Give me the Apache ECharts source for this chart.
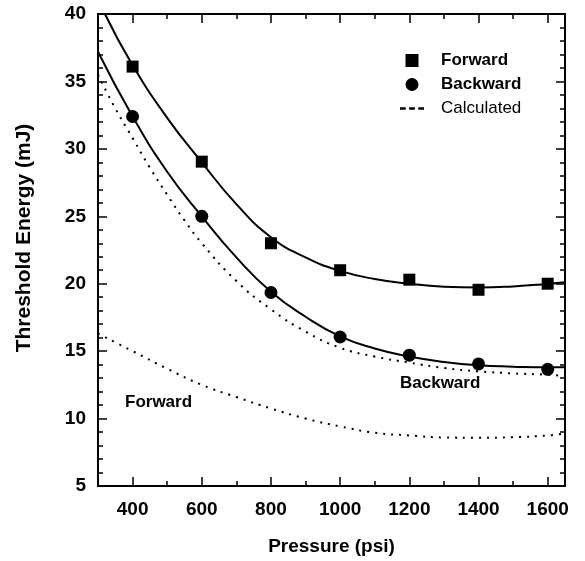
<!DOCTYPE html>
<html>
<head>
<meta charset="utf-8">
<script src="https://cdn.jsdelivr.net/npm/echarts@6/dist/echarts.min.js"></script>
<style>
  html, body { margin: 0; padding: 0; background: #fff; }
  #chart { width: 585px; height: 561px; }
</style>
</head>
<body>
<div id="chart"></div>
<script>
// measured points (psi, mJ)
const forwardData = [[400, 36.1], [600, 29.05], [800, 23.0], [1000, 21.0], [1200, 20.3], [1400, 19.55], [1600, 20.0]];
const backwardData = [[400, 32.4], [600, 25.0], [800, 19.35], [1000, 16.05], [1200, 14.7], [1400, 14.05], [1600, 13.65]];

// fitted curves
const forwardFit = [[320, 40.0], [400, 36.2], [500, 32.3], [600, 29.0], [700, 25.9], [800, 23.45], [900, 21.95],
    [1000, 20.95], [1100, 20.35], [1200, 20.0], [1300, 19.78], [1400, 19.72], [1500, 19.8], [1600, 19.98], [1650, 20.1]];
const backwardFit = [[300, 37.2], [400, 32.4], [500, 28.3], [600, 25.0], [700, 21.95], [800, 19.4], [900, 17.55],
    [1000, 16.1], [1100, 15.2], [1200, 14.6], [1300, 14.2], [1400, 13.95], [1500, 13.85], [1600, 13.8], [1650, 13.8]];

// calculated (dotted)
const calcBackward = [[300, 35.5], [350, 33.0], [400, 30.8], [450, 28.6], [500, 26.6], [550, 24.7], [600, 23.0],
    [700, 20.2], [800, 18.1], [900, 16.45], [1000, 15.25], [1100, 14.6], [1200, 14.15], [1300, 13.75], [1400, 13.5],
    [1500, 13.35], [1600, 13.25], [1650, 13.15]];
const calcForward = [[300, 16.3], [400, 15.0], [500, 13.7], [600, 12.5], [700, 11.6], [800, 10.75], [900, 10.0],
    [1000, 9.42], [1100, 8.95], [1200, 8.75], [1300, 8.6], [1400, 8.58], [1500, 8.62], [1600, 8.75], [1650, 8.9]];

const xMin = 300, xMax = 1650;
const yMin = 5, yMax = 40;

const font = 'Liberation Sans, Arial, sans-serif';
const axisLine = { show: true, lineStyle: { color: '#000', width: 2 } };

function frameX(position, showLabel, minor) {
    return {
        type: 'value', position: position, min: xMin, max: xMax,
        splitNumber: 7,
        interval: minor ? 100 : undefined,
        axisLine: axisLine,
        axisTick: { show: true, inside: true, length: minor ? 5 : 9, lineStyle: { color: '#000', width: 1.5 } },
        axisLabel: {
            show: showLabel, showMinLabel: false, showMaxLabel: false, margin: 14,
            color: '#000', fontFamily: font, fontWeight: 'bold', fontSize: 19,
            formatter: v => String(v)
        },
        splitLine: { show: false }
    };
}

function frameY(position, showLabel) {
    return {
        type: 'value', position: position, min: yMin, max: yMax, interval: 5,
        axisLine: axisLine,
        axisTick: { show: true, inside: true, length: 9, lineStyle: { color: '#000', width: 1.5 } },
        minorTick: { show: true, splitNumber: 5, length: 5, lineStyle: { color: '#000', width: 1.5 } },
        axisLabel: { show: showLabel, margin: 12, color: '#000', fontFamily: font, fontWeight: 'bold', fontSize: 19 },
        splitLine: { show: false }
    };
}

const xBottom = frameX('bottom', true, false);
xBottom.name = 'Pressure (psi)';
xBottom.nameLocation = 'middle';
xBottom.nameGap = 51;
xBottom.nameTextStyle = { color: '#000', fontFamily: font, fontWeight: 'bold', fontSize: 19 };

const yLeft = frameY('left', true);
yLeft.name = 'Threshold Energy (mJ)';
yLeft.nameLocation = 'middle';
yLeft.nameGap = 63;
yLeft.nameTextStyle = { color: '#000', fontFamily: font, fontWeight: 'bold', fontSize: 21, padding: [0, 0, 0, 24] };

const squareIcon = 'path://M0,0L10,0L10,10L0,10Z';
const dashIcon = 'path://M0,0h5v2h-5zM8,0h5v2h-5zM16,0h5v2h-5z';

const chart = echarts.init(document.getElementById('chart'));

chart.setOption({
    animation: false,
    backgroundColor: '#fff',
    grid: { left: 98, right: 20, top: 14, bottom: 75 },
    xAxis: [xBottom, frameX('bottom', false, true), frameX('top', false, true), frameX('top', false, false)],
    yAxis: [yLeft, frameY('right', false)],
    legend: {
        orient: 'vertical', left: 395, top: 47, itemGap: 7, itemWidth: 24, itemHeight: 13,
        textStyle: { color: '#000', fontFamily: font, fontSize: 17, padding: [0, 0, 0, 12] },
        data: [
            { name: 'Forward', icon: squareIcon, textStyle: { fontWeight: 'bold' } },
            { name: 'Backward', icon: 'circle', textStyle: { fontWeight: 'bold' } },
            { name: 'Calculated', icon: dashIcon, textStyle: { fontWeight: 'normal' } }
        ]
    },
    graphic: [
        { type: 'text', left: 125, top: 394, style: { text: 'Forward', fill: '#000', font: 'bold 17px ' + font } },
        { type: 'text', left: 400, top: 375, style: { text: 'Backward', fill: '#000', font: 'bold 17px ' + font } }
    ],
    series: [
        {
            name: 'Forward', type: 'scatter', data: forwardData, symbol: 'rect', symbolSize: 12,
            itemStyle: { color: '#000', opacity: 1 }, z: 5
        },
        {
            name: 'Backward', type: 'scatter', data: backwardData, symbol: 'circle', symbolSize: 13,
            itemStyle: { color: '#000', opacity: 1 }, z: 5
        },
        {
            name: 'ForwardFit', type: 'line', data: forwardFit, smooth: 0.5, symbol: 'none', clip: true,
            lineStyle: { color: '#000', width: 2 }
        },
        {
            name: 'BackwardFit', type: 'line', data: backwardFit, smooth: 0.5, symbol: 'none', clip: true,
            lineStyle: { color: '#000', width: 2 }
        },
        {
            name: 'Calculated', type: 'line', data: calcBackward, smooth: 0.5, symbol: 'none', clip: true,
            itemStyle: { color: '#000' },
            lineStyle: { color: '#000', width: 2, type: [2, 6] }
        },
        {
            name: 'Calculated', type: 'line', data: calcForward, smooth: 0.5, symbol: 'none', clip: true,
            itemStyle: { color: '#000' },
            lineStyle: { color: '#000', width: 2, type: [2, 6] }
        }
    ]
});
</script>
</body>
</html>
